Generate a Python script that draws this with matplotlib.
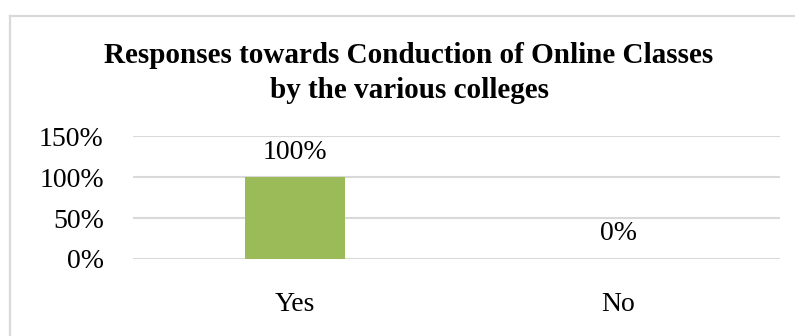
import matplotlib
matplotlib.use("Agg")
import matplotlib.pyplot as plt
from matplotlib.lines import Line2D
from matplotlib.ticker import PercentFormatter

categories = ["Yes", "No"]
values = [1.00, 0.00]
yticks = [0.0, 0.5, 1.0, 1.5]
title = "Responses towards Conduction of Online Classes\nby the various colleges"

plt.rcParams["font.family"] = ["Liberation Serif", "DejaVu Serif"]

W, H = 795, 336
fig = plt.figure(figsize=(W / 100, H / 100), dpi=100)
fig.patch.set_facecolor("white")

# chart frame (top and left edges)
frame_kw = dict(transform=fig.transFigure, color="#D9D9D9", linewidth=1.6)
fig.lines.append(Line2D([9.5 / W, 1.0], [1 - 15.5 / H, 1 - 15.5 / H], **frame_kw))
fig.lines.append(Line2D([9.5 / W, 9.5 / W], [0.0, 1 - 15.5 / H], **frame_kw))

ax = fig.add_axes([133 / W, 1 - 259 / H, 647 / W, 123 / H])
x = range(len(categories))
ax.bar(x, values, width=0.31, color="#9BBB59", zorder=3)

ax.set_xlim(-0.5, len(categories) - 0.5)
ax.set_ylim(0, 1.5)
ax.set_yticks(yticks)
ax.yaxis.set_major_formatter(PercentFormatter(1.0, decimals=0))
ax.set_xticks(list(x))
ax.set_xticklabels(categories)
ax.grid(axis="y", color="#D9D9D9", linewidth=1.5, zorder=0)
for s in ax.spines.values():
    s.set_visible(False)
ax.tick_params(axis="both", length=0, labelsize=20, colors="black")
ax.tick_params(axis="y", pad=21)
ax.tick_params(axis="x", pad=24)

for xi, v in zip(x, values):
    ax.annotate(f"{v:.0%}", (xi, v), xytext=(0, 25), textcoords="offset pixels",
                ha="center", va="center", fontsize=20)

fig.text(409 / W, 1 - 73 / H, title, ha="center", va="center",
         fontsize=21, fontweight="bold", linespacing=1.4)

fig.savefig("out.png", dpi=100, facecolor="white")
